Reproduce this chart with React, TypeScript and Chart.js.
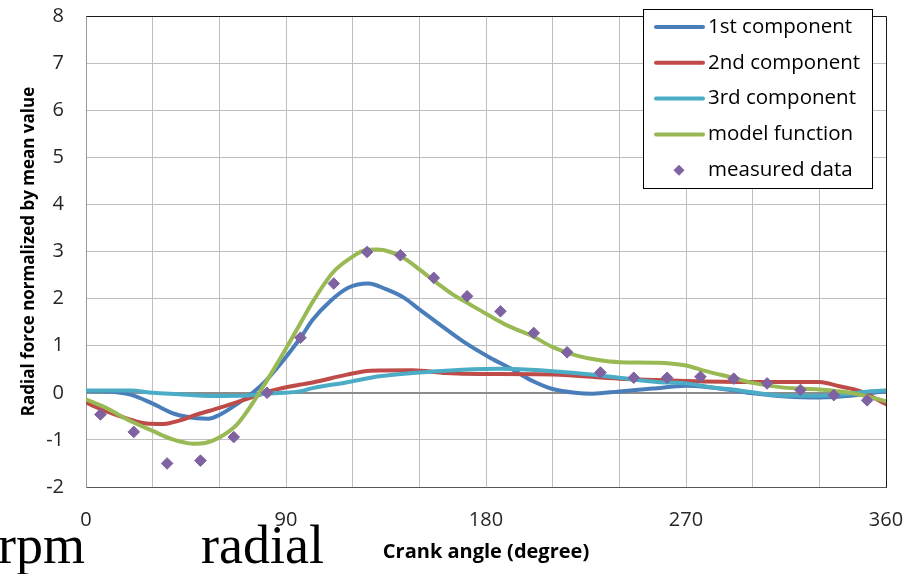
import React, { useEffect, useRef } from 'react';
import { Chart, registerables } from 'chart.js';

Chart.register(...registerables);

// ---------- data ----------
const firstAngles = [0, 10, 20, 30, 40, 50, 55, 60, 66, 75, 81, 90, 97, 102, 110, 118, 127, 135, 143, 150, 160, 170, 182, 191, 201, 210, 220, 228, 240, 255, 270, 280, 290, 300, 315, 330, 345, 360];
const firstValues = [0.04, 0.03, -0.04, -0.23, -0.45, -0.54, -0.55, -0.47, -0.30, 0.0, 0.26, 0.76, 1.2, 1.55, 1.95, 2.23, 2.32, 2.2, 2.02, 1.77, 1.42, 1.08, 0.74, 0.52, 0.25, 0.08, 0.0, -0.02, 0.03, 0.09, 0.15, 0.12, 0.06, -0.01, -0.08, -0.1, -0.06, 0.04];

const secondAngles = [0, 9, 20, 27, 35, 42, 50, 60, 69, 77, 84, 96, 102, 117, 128, 147, 162, 177, 186, 210, 240, 257, 270, 300, 330, 339, 348, 360];
const secondValues = [-0.21, -0.39, -0.57, -0.65, -0.66, -0.59, -0.46, -0.32, -0.18, -0.06, 0.05, 0.17, 0.22, 0.38, 0.47, 0.48, 0.42, 0.4, 0.4, 0.39, 0.3, 0.27, 0.25, 0.23, 0.23, 0.14, 0.04, -0.24];

const thirdAngles = [0, 20, 30, 42, 57, 72, 81, 96, 102, 117, 132, 147, 162, 174, 186, 200, 210, 227, 240, 257, 270, 281, 291, 300, 314, 330, 344, 352, 360];
const thirdValues = [0.05, 0.05, 0.0, -0.03, -0.07, -0.06, -0.02, 0.03, 0.1, 0.22, 0.35, 0.42, 0.47, 0.5, 0.51, 0.49, 0.46, 0.39, 0.32, 0.23, 0.2, 0.12, 0.07, 0.01, -0.06, -0.06, -0.02, 0.03, 0.05];

const modelAngles = [0, 9, 20, 30, 39, 48, 54, 60, 68, 75, 78, 84, 90, 97, 102, 111, 119, 126, 131, 137, 143, 150, 158, 165, 173, 180, 190, 201, 210, 220, 230, 240, 257, 270, 279, 291, 300, 314, 330, 344, 351, 360];
const modelValues = [-0.14, -0.32, -0.6, -0.81, -0.99, -1.08, -1.06, -0.95, -0.67, -0.22, 0.0, 0.46, 0.94, 1.52, 1.93, 2.55, 2.86, 3.03, 3.04, 2.99, 2.86, 2.62, 2.33, 2.09, 1.87, 1.68, 1.42, 1.2, 0.97, 0.8, 0.7, 0.65, 0.64, 0.58, 0.46, 0.32, 0.21, 0.11, 0.07, 0.0, -0.07, -0.18];

const measuredAngles = [6.5, 21.5, 36.5, 51.5, 66.5, 81.5, 96.5, 111.5, 126.5, 141.5, 156.5, 171.5, 186.5, 201.5, 216.5, 231.5, 246.5, 261.5, 276.5, 291.5, 306.5, 321.5, 336.5, 351.5];
const measuredValues = [-0.46, -0.83, -1.5, -1.44, -0.94, 0.0, 1.17, 2.32, 2.99, 2.92, 2.44, 2.05, 1.73, 1.27, 0.86, 0.43, 0.32, 0.32, 0.34, 0.3, 0.2, 0.06, -0.05, -0.16];

const seriesLabels = ['1st component', '2nd component', '3rd component', 'model function', 'measured data'];
const xTitle = 'Crank angle (degree)';
const yTitle = 'Radial force normalized by mean value';
const captionWords = ['rpm', 'radial'];

const X_MIN = 0;
const X_MAX = 360;
const X_STEP = 30;
const X_LABEL_EVERY = 90;
const Y_MIN = -2;
const Y_MAX = 8;
const Y_STEP = 1;

// ---------- styles ----------
const COLORS = ['#4a7ebb', '#be4b48', '#4bacc6', '#98b954', '#7f62a1'];
const FONT = '"Open Sans", "DejaVu Sans", sans-serif';

const framePlugin = {
  id: 'frame',
  afterDraw(chart: any) {
    const { ctx, chartArea: a } = chart;
    ctx.save();
    ctx.strokeStyle = '#1a1a1a';
    ctx.lineWidth = 1;
    ctx.beginPath();
    ctx.moveTo(Math.round(a.left) + 0.5, Math.round(a.top) + 0.5);
    ctx.lineTo(Math.round(a.right) + 0.5, Math.round(a.top) + 0.5);
    ctx.lineTo(Math.round(a.right) + 0.5, Math.round(a.bottom) + 0.5);
    ctx.stroke();
    ctx.restore();
  },
};

const insideLegendPlugin = {
  id: 'insideLegend',
  afterDraw(chart: any) {
    const { ctx, chartArea: a } = chart;
    const boxW = 229;
    const boxH = 179;
    const left = Math.round(a.right) - 243;
    const top = Math.round(a.top) - 7;
    ctx.save();
    ctx.fillStyle = '#ffffff';
    ctx.fillRect(left, top, boxW, boxH);
    ctx.strokeStyle = '#000000';
    ctx.lineWidth = 1;
    ctx.strokeRect(left + 0.5, top + 0.5, boxW, boxH);
    ctx.font = `20.5px ${FONT}`;
    ctx.textBaseline = 'middle';
    ctx.textAlign = 'left';
    const rowH = 35.8;
    chart.data.datasets.forEach((ds: any, i: number) => {
      const cy = top + 18 + i * rowH;
      if (ds.showLine === false) {
        ctx.fillStyle = ds.pointBackgroundColor;
        const r = 5.5;
        const cx = left + 36;
        ctx.beginPath();
        ctx.moveTo(cx, cy - r);
        ctx.lineTo(cx + r, cy);
        ctx.lineTo(cx, cy + r);
        ctx.lineTo(cx - r, cy);
        ctx.closePath();
        ctx.fill();
      } else {
        ctx.strokeStyle = ds.borderColor;
        ctx.lineWidth = 4;
        ctx.lineCap = 'round';
        ctx.beginPath();
        ctx.moveTo(left + 13, cy);
        ctx.lineTo(left + 60, cy);
        ctx.stroke();
      }
      ctx.fillStyle = '#000000';
      ctx.fillText(ds.label, left + 65, cy);
    });
    ctx.restore();
  },
};

const captionPlugin = {
  id: 'caption',
  afterDraw(chart: any) {
    const { ctx } = chart;
    ctx.save();
    ctx.font = '54px "Liberation Serif", "DejaVu Serif", serif';
    ctx.fillStyle = '#000000';
    ctx.textBaseline = 'alphabetic';
    ctx.textAlign = 'left';
    ctx.fillText(captionWords[0], -2, 563);
    ctx.fillText(captionWords[1], 201, 563);
    ctx.restore();
  },
};

export default function App() {
  const ref = useRef<HTMLCanvasElement>(null);

  useEffect(() => {
    if (!ref.current) return;
    const toXY = (xs: number[], ys: number[]) => xs.map((x, i) => ({ x, y: ys[i] }));
    const lineDs = (label: string, xs: number[], ys: number[], color: string, order: number) => ({
      label,
      data: toXY(xs, ys),
      borderColor: color,
      backgroundColor: color,
      borderWidth: 4,
      pointRadius: 0,
      pointHoverRadius: 0,
      fill: false,
      cubicInterpolationMode: 'monotone',
      borderCapStyle: 'round',
      borderJoinStyle: 'round',
      order,
    });

    const chart = new Chart(ref.current, {
      type: 'line',
      data: {
        datasets: [
          lineDs(seriesLabels[0], firstAngles, firstValues, COLORS[0], 4),
          lineDs(seriesLabels[1], secondAngles, secondValues, COLORS[1], 3),
          lineDs(seriesLabels[2], thirdAngles, thirdValues, COLORS[2], 2),
          lineDs(seriesLabels[3], modelAngles, modelValues, COLORS[3], 1),
          {
            label: seriesLabels[4],
            data: toXY(measuredAngles, measuredValues),
            showLine: false,
            pointStyle: 'rectRot',
            pointRadius: 5.8,
            pointHoverRadius: 5.8,
            pointBackgroundColor: COLORS[4],
            pointBorderColor: COLORS[4],
            pointBorderWidth: 1,
            borderColor: COLORS[4],
            backgroundColor: COLORS[4],
            order: 0,
          },
        ] as any,
      },
      options: {
        animation: false,
        responsive: false,
        events: [],
        layout: { padding: { top: 16, right: 36, bottom: 0, left: 0 } },
        plugins: {
          legend: { display: false },
          tooltip: { enabled: false },
        },
        scales: {
          x: {
            type: 'linear',
            min: X_MIN,
            max: X_MAX,
            afterFit: (s: any) => {
              s.height = 87;
              s.paddingLeft = 0;
              s.paddingRight = 0;
            },
            ticks: {
              stepSize: X_STEP,
              autoSkip: false,
              maxRotation: 0,
              padding: 21,
              color: '#262626',
              font: { family: FONT, size: 20 },
              callback: (v: any) => (Math.round(Number(v)) % X_LABEL_EVERY === 0 ? String(Math.round(Number(v))) : ''),
            },
            grid: { color: '#bfbfbf', lineWidth: 1, drawTicks: false },
            border: { display: true, color: '#555555', width: 1 },
            title: {
              display: true,
              text: xTitle,
              color: '#000000',
              font: { family: FONT, size: 20, weight: 'bold' },
              padding: { top: 0, bottom: 10 },
            },
          },
          y: {
            type: 'linear',
            min: Y_MIN,
            max: Y_MAX,
            afterFit: (s: any) => {
              s.width = 86;
              s.paddingTop = 0;
              s.paddingBottom = 0;
            },
            ticks: {
              stepSize: Y_STEP,
              padding: 22,
              color: '#262626',
              font: { family: FONT, size: 20 },
            },
            grid: {
              color: (c: any) => (c.tick && c.tick.value === 0 ? '#8c8c8c' : '#bfbfbf'),
              lineWidth: (c: any) => (c.tick && c.tick.value === 0 ? 2 : 1),
              drawTicks: false,
            },
            border: { display: true, color: '#9a9a9a', width: 1 },
            title: {
              display: true,
              text: yTitle,
              color: '#000000',
              font: { family: FONT, size: 17, weight: 'bold' },
              padding: { top: 19, bottom: 0 },
            },
          },
        },
      } as any,
      plugins: [framePlugin, insideLegendPlugin, captionPlugin],
    });

    return () => chart.destroy();
  }, []);

  return (
    <div style={{ position: 'fixed', left: 0, top: 0, width: 922, height: 574, background: '#ffffff' }}>
      <canvas ref={ref} width={922} height={574} style={{ display: 'block', width: 922, height: 574 }} />
    </div>
  );
}
